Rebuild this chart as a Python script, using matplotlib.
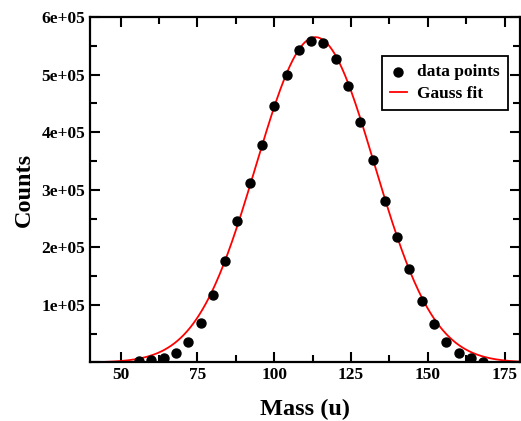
import numpy as np
import matplotlib
matplotlib.use("Agg")
import matplotlib.pyplot as plt
from matplotlib.ticker import MultipleLocator, FuncFormatter

# --- dane ---
mass = [56, 60, 64, 68, 72, 76, 80, 84, 88, 92, 96, 100, 104, 108, 112,
        116, 120, 124, 128, 132, 136, 140, 144, 148, 152, 156, 160, 164, 168]
counts = [2000, 4000, 7500, 17000, 36000, 69000, 117000, 177000, 246000,
          312000, 377000, 445000, 500000, 542000, 558000, 554000, 527000,
          480000, 417000, 352000, 280000, 218000, 163000, 107000, 66000,
          36000, 17000, 7000, 1000]

fit_amp = 565000
fit_mu = 113.4
fit_sigma = 19.3
fit_range = (45, 181)

plt.rcParams['font.family'] = ['Liberation Serif', 'DejaVu Serif']
plt.rcParams['font.weight'] = 'bold'

fig = plt.figure(figsize=(5.21, 4.21), dpi=100)
ax = fig.add_axes([0.1727, 0.139, 0.8253, 0.8206])

xf = np.linspace(fit_range[0], fit_range[1], 400)
yf = fit_amp * np.exp(-(xf - fit_mu) ** 2 / (2 * fit_sigma ** 2))

ax.plot(xf, yf, color='red', linewidth=1.3, label='Gauss fit', zorder=2)
ax.scatter(mass, counts, s=42, color='black', label='data points', zorder=3)

ax.set_xlim(40, 180)
ax.set_ylim(0, 6e5)
ax.xaxis.set_major_locator(MultipleLocator(25))
ax.xaxis.set_minor_locator(MultipleLocator(12.5))
ax.yaxis.set_major_locator(MultipleLocator(1e5))
ax.yaxis.set_minor_locator(MultipleLocator(0.5e5))

def yfmt(v, pos):
    if v == 0:
        return ''
    return '%de+05' % round(v / 1e5)

ax.yaxis.set_major_formatter(FuncFormatter(yfmt))

ax.tick_params(which='both', direction='in', top=True, right=True,
               width=1.5, labelsize=12.5)
ax.tick_params(which='major', length=7)
ax.tick_params(which='minor', length=5)
for sp in ax.spines.values():
    sp.set_linewidth(1.6)

for lab in ax.get_xticklabels() + ax.get_yticklabels():
    lab.set_fontweight('bold')

ax.set_xlabel('Mass (u)', fontsize=17.5, fontweight='bold', labelpad=11)
ax.set_ylabel('Counts', fontsize=17.5, fontweight='bold', labelpad=5)

handles, labels = ax.get_legend_handles_labels()
leg = ax.legend([handles[1], handles[0]], [labels[1], labels[0]],
                loc='upper right', bbox_to_anchor=(0.972, 0.886),
                borderaxespad=0, fancybox=False, framealpha=1,
                edgecolor='black', prop={'size': 12.5, 'weight': 'bold'},
                handlelength=1.0, handletextpad=0.6, borderpad=0.45,
                labelspacing=0.3, scatterpoints=1)
leg.get_frame().set_linewidth(1.3)

fig.savefig('out.png', dpi=100)
